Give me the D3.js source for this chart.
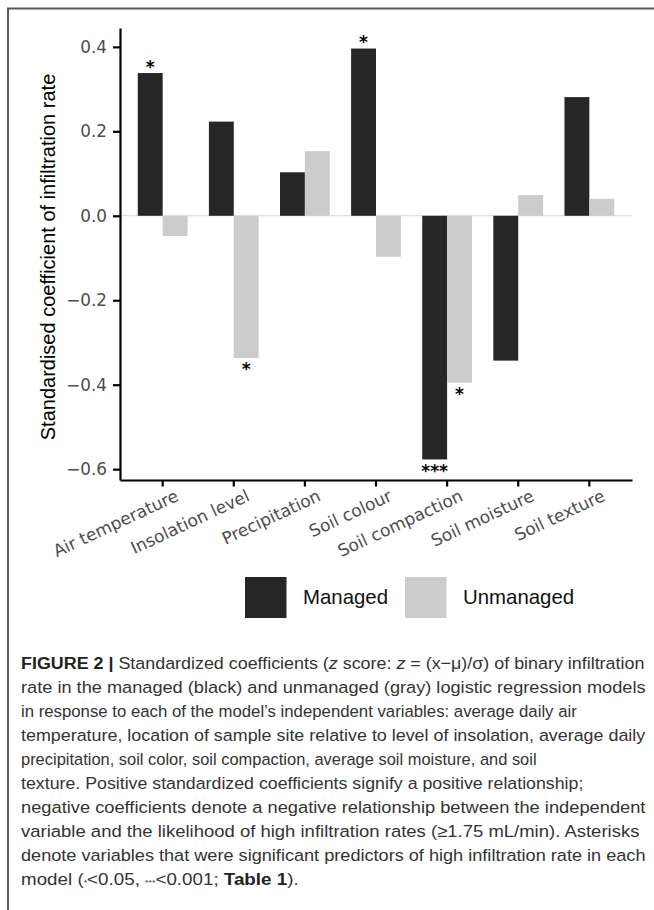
<!DOCTYPE html>
<meta charset="utf-8">
<script src="https://cdn.jsdelivr.net/npm/d3@7"></script>

<style>
body{margin:0;background:#fff;}
</style>

<body>
<script>
// values
var categories=["Air temperature","Insolation level","Precipitation","Soil colour","Soil compaction","Soil moisture","Soil texture"];
var series=["Managed","Unmanaged"];
var managed=[0.338,0.223,0.103,0.396,-0.577,-0.343,0.281];
var unmanaged=[-0.048,-0.337,0.153,-0.097,-0.395,0.049,0.040];
var sigManaged=["*","","","*","***","",""];
var sigUnmanaged=["","*","","","*","",""];
var yTicks=[-0.6,-0.4,-0.2,0.0,0.2,0.4];
var colors=["#262626","#cccccc"];

// caption, one array per printed line: [text, style]
var caption=[
  [["FIGURE 2 | ","b"],["Standardized coefficients (",""],["z","i"],[" score: ",""],["z","i"],[" = (x\u2212\u03bc)/\u03c3) of binary infiltration",""]],
  [["rate in the managed (black) and unmanaged (gray) logistic regression models",""]],
  [["in response to each of the model\u2019s independent variables: average daily air",""]],
  [["temperature, location of sample site relative to level of insolation, average daily",""]],
  [["precipitation, soil color, soil compaction, average soil moisture, and soil",""]],
  [["texture. Positive standardized coefficients signify a positive relationship;",""]],
  [["negative coefficients denote a negative relationship between the independent",""]],
  [["variable and the likelihood of high infiltration rates (\u22651.75 mL/min). Asterisks",""]],
  [["denote variables that were significant predictors of high infiltration rate in each",""]],
  [["model (",""],["*","s"],["<0.05, ",""],["***","s"],["<0.001; ",""],["Table 1","b"],[").",""]]
];
// right end of each printed caption line
var captionEnds=[645,646,577,646,537,584,646,640,646,299];
</script>

<script>
var svg=d3.select("body").append("svg")
    .attr("width",654)
    .attr("height",910);

// outer frame (left + top)
svg.append("path")
    .attr("d","M8,910V8.5H654")
    .attr("fill","none")
    .attr("stroke","#5a5a5a")
    .attr("stroke-width",2);

var pLeft=120,pRight=632,pTop=28,pBottom=480;

var all=managed.concat(unmanaged);
var ext=d3.extent(all);
var pad=(ext[1]-ext[0])*0.05;
var y=d3.scaleLinear().domain([ext[0]-pad,ext[1]+pad]).range([pBottom,pTop]);
var x=d3.scaleBand().domain(categories).range([pLeft,pRight]).paddingInner(0.3).paddingOuter(0.25);
var xs=d3.scaleBand().domain(series).range([0,x.bandwidth()]);

var rows=categories.map(function(c,i){
  return {cat:c, vals:[managed[i],unmanaged[i]], sig:[sigManaged[i],sigUnmanaged[i]]};
});

// zero line
svg.append("line")
    .attr("x1",pLeft).attr("x2",pRight)
    .attr("y1",y(0)).attr("y2",y(0))
    .attr("stroke","#d4d4d4")
    .attr("stroke-width",1);

var groups=svg.selectAll("g.grp")
    .data(rows)
    .enter()
    .append("g")
    .attr("class","grp")
    .attr("transform",function(d){return "translate("+x(d.cat)+",0)";});

groups.selectAll("rect")
    .data(function(d){return d.vals.map(function(v,j){return {v:v,s:series[j],j:j};});})
    .enter()
    .append("rect")
    .attr("x",function(d){return xs(d.s);})
    .attr("y",function(d){return Math.min(y(d.v),y(0));})
    .attr("width",xs.bandwidth())
    .attr("height",function(d){return Math.abs(y(d.v)-y(0));})
    .attr("fill",function(d){return colors[d.j];});

groups.selectAll("text.sig")
    .data(function(d){return d.vals.map(function(v,j){return {v:v,s:series[j],t:d.sig[j]};});})
    .enter()
    .append("text")
    .attr("class","sig")
    .attr("x",function(d){return xs(d.s)+xs.bandwidth()/2;})
    .attr("y",function(d){return d.v>0 ? y(d.v)-0.5 : y(d.v)+17.4;})
    .attr("text-anchor","middle")
    .style("font-family","'DejaVu Sans'")
    .style("font-size","17px")
    .style("font-weight","bold")
    .attr("fill","#000")
    .text(function(d){return d.t;});

// y axis
var yaxis=d3.axisLeft(y).tickValues(yTicks).tickSize(7).tickSizeOuter(0).tickPadding(6)
    .tickFormat(d3.format(".1f"));
var gy=svg.append("g")
    .attr("transform","translate("+pLeft+",0)")
    .call(yaxis);
gy.select(".domain").attr("stroke","#000").attr("stroke-width",2.2);
gy.selectAll(".tick line").attr("stroke","#000").attr("stroke-width",2.2);
gy.selectAll(".tick text")
    .attr("fill","#4d4d4d")
    .style("font-family","'DejaVu Sans'")
    .style("font-size","16.8px");

// x axis
var xaxis=d3.axisBottom(x).tickSize(6.5).tickSizeOuter(0);
var gx=svg.append("g")
    .attr("transform","translate(0,"+pBottom+")")
    .call(xaxis);
gx.select(".domain").attr("stroke","#000").attr("stroke-width",2.2);
gx.selectAll(".tick line").attr("stroke","#000").attr("stroke-width",2.2);
gx.selectAll(".tick text")
    .attr("y",0).attr("dy",0)
    .attr("text-anchor","end")
    .attr("transform","translate(17,20) rotate(-25)")
    .attr("fill","#4d4d4d")
    .style("font-family","'DejaVu Sans'")
    .style("font-size","17px");

// y title
svg.append("text")
    .attr("transform","translate(55,257) rotate(-90)")
    .attr("text-anchor","middle")
    .style("font-family","'Liberation Sans'")
    .style("font-size","20px")
    .attr("fill","#000")
    .text("Standardised coefficient of infiltration rate");

// legend
var lg=svg.append("g").attr("transform","translate(245,577)");
var lx=0;
series.forEach(function(s,j){
  lg.append("rect")
    .attr("x",lx).attr("y",0)
    .attr("width",41.5).attr("height",41)
    .attr("fill",colors[j]);
  var t=lg.append("text")
    .attr("x",lx+58).attr("y",27)
    .style("font-family","'Liberation Sans'")
    .style("font-size","20.4px")
    .attr("fill","#111")
    .text(s);
  lx=lx+58+t.node().getComputedTextLength()+17;
});

// caption, each line narrowed to where it ends in the figure
var cap=svg.append("g").style("font-family","'Liberation Sans'").style("font-size","17px");
caption.forEach(function(line,i){
  var t=cap.append("text")
    .attr("x",0).attr("y",0)
    .attr("fill","#333");
  line.forEach(function(seg){
    var ts=t.append("tspan").text(seg[0]);
    if(seg[1]=="b") ts.style("font-weight","bold").attr("fill","#222");
    if(seg[1]=="i") ts.style("font-style","italic");
    if(seg[1]=="s") ts.style("font-size","8px");
  });
  var w=t.node().getComputedTextLength();
  var k=(captionEnds[i]-21)/w;
  t.attr("transform","translate(21,"+(669+24*i)+") scale("+k+",1)");
});
</script>
</body>
</html>
